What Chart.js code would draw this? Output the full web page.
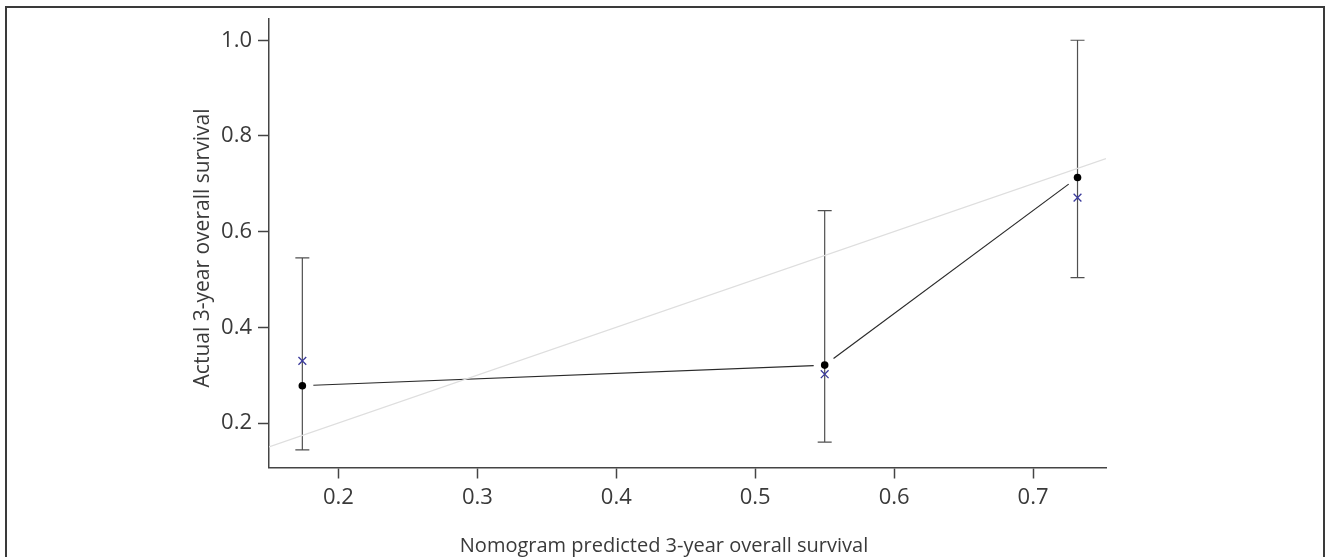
<!DOCTYPE html>
<html>
<head>
<meta charset="utf-8">
<script src="https://cdn.jsdelivr.net/npm/chart.js@4/dist/chart.umd.min.js"></script>
<style>
    html, body { margin: 0; padding: 0; background: #fff; overflow: hidden; }
    #wrap { position: relative; width: 1330px; height: 557px; }
    #frame {
        position: absolute; left: 5px; top: 6px; width: 1320px; height: 600px;
        border: 2px solid #3a3a3a; box-sizing: border-box;
    }
    canvas { position: absolute; left: 0; top: 0; }
</style>
</head>
<body>
<div id="wrap">
    <div id="frame"></div>
    <canvas id="calChart" width="1330" height="557"></canvas>
</div>
<script>
// ==================== 校准曲线数据 ====================
const predicted = [0.174, 0.550, 0.732];       // 列线图预测值
const observed = [0.278, 0.321, 0.713];        // 实际生存率 (黑点)
const corrected = [0.330, 0.302, 0.671];       // 偏差校正 (蓝色 x)
const ciLower = [0.144, 0.160, 0.504];
const ciUpper = [0.545, 0.644, 1.000];

const xTicks = [0.2, 0.3, 0.4, 0.5, 0.6, 0.7];
const yTicks = [0.2, 0.4, 0.6, 0.8, 1.0];
const xRange = [0.15, 0.7525];
const yRange = [0.107, 1.044];

const xTitle = 'Nomogram predicted 3-year overall survival';
const yTitle = 'Actual 3-year overall survival';

const FONT = "'Open Sans', 'Noto Sans', sans-serif";
const TEXT_COLOR = '#3a3a3a';

/**
 * 误差线 + 带间隙的连线 + 坐标轴标题
 */
const calibrationPlugin = {
    id: 'calibration',
    beforeDatasetsDraw(chart) {
        const { ctx, scales: { x, y } } = chart;
        ctx.save();

        // 误差线
        ctx.strokeStyle = '#505050';
        ctx.lineWidth = 1.2;
        predicted.forEach((p, i) => {
            const px = x.getPixelForValue(p);
            const top = y.getPixelForValue(ciUpper[i]);
            const bot = y.getPixelForValue(ciLower[i]);
            ctx.beginPath();
            ctx.moveTo(px, top);
            ctx.lineTo(px, bot);
            ctx.moveTo(px - 7, top);
            ctx.lineTo(px + 7, top);
            ctx.moveTo(px - 7, bot);
            ctx.lineTo(px + 7, bot);
            ctx.stroke();
        });

        // 点之间的连线 (两端留空隙)
        const gap = 11;
        ctx.strokeStyle = '#2a2a2a';
        ctx.lineWidth = 1.2;
        for (let i = 0; i < predicted.length - 1; i++) {
            const x1 = x.getPixelForValue(predicted[i]);
            const y1 = y.getPixelForValue(observed[i]);
            const x2 = x.getPixelForValue(predicted[i + 1]);
            const y2 = y.getPixelForValue(observed[i + 1]);
            const len = Math.hypot(x2 - x1, y2 - y1);
            const ux = (x2 - x1) / len, uy = (y2 - y1) / len;
            ctx.beginPath();
            ctx.moveTo(x1 + ux * gap, y1 + uy * gap);
            ctx.lineTo(x2 - ux * gap, y2 - uy * gap);
            ctx.stroke();
        }
        ctx.restore();
    },
    afterDraw(chart) {
        const { ctx } = chart;
        ctx.save();
        ctx.fillStyle = TEXT_COLOR;
        ctx.textAlign = 'center';
        ctx.textBaseline = 'alphabetic';
        ctx.font = `20px ${FONT}`;
        ctx.fillText(xTitle, 664, 552);

        ctx.font = `21px ${FONT}`;
        ctx.translate(209, 248);
        ctx.rotate(-Math.PI / 2);
        ctx.fillText(yTitle, 0, 0);
        ctx.restore();
    }
};

const ctx = document.getElementById('calChart');

new Chart(ctx, {
    type: 'scatter',
    data: {
        datasets: [
            {
                // 理想对角线
                type: 'line',
                data: [{ x: xRange[0], y: xRange[0] }, { x: xRange[1], y: xRange[1] }],
                borderColor: '#dedede',
                borderWidth: 1.2,
                pointRadius: 0,
                order: 5
            },
            {
                data: predicted.map((p, i) => ({ x: p, y: corrected[i] })),
                pointStyle: 'crossRot',
                pointRadius: 5.5,
                borderColor: '#3b3b9c',
                borderWidth: 1.3,
                order: 2
            },
            {
                data: predicted.map((p, i) => ({ x: p, y: observed[i] })),
                pointStyle: 'circle',
                pointRadius: 3.8,
                backgroundColor: '#000',
                borderColor: '#000',
                borderWidth: 0,
                order: 1
            }
        ]
    },
    options: {
        responsive: false,
        animation: false,
        layout: { padding: { left: 10, top: 13, right: 224, bottom: 0 } },
        plugins: {
            legend: { display: false },
            tooltip: { enabled: false }
        },
        scales: {
            x: {
                type: 'linear',
                min: xRange[0],
                max: xRange[1],
                afterFit(scale) { scale.height = 89.5; },
                afterBuildTicks(scale) { scale.ticks = xTicks.map(v => ({ value: v })); },
                grid: {
                    drawOnChartArea: false,
                    color: '#444',
                    tickLength: 11,
                    tickWidth: 1.5
                },
                border: { color: '#444', width: 1.5 },
                ticks: {
                    color: TEXT_COLOR,
                    padding: 6,
                    font: { size: 22, family: FONT },
                    callback: v => v.toFixed(1)
                }
            },
            y: {
                type: 'linear',
                min: yRange[0],
                max: yRange[1],
                afterFit(scale) { scale.width = 259; },
                afterBuildTicks(scale) { scale.ticks = yTicks.map(v => ({ value: v })); },
                grid: {
                    drawOnChartArea: false,
                    color: '#444',
                    tickLength: 11,
                    tickWidth: 1.5
                },
                border: { color: '#444', width: 1.5 },
                ticks: {
                    color: TEXT_COLOR,
                    padding: 6,
                    font: { size: 22, family: FONT },
                    callback: v => v.toFixed(1)
                }
            }
        }
    },
    plugins: [calibrationPlugin]
});
</script>
</body>
</html>
